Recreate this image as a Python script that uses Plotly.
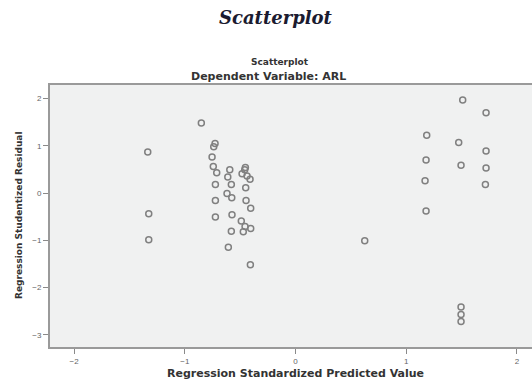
import plotly.graph_objects as go

# Regression Standardized Predicted Value
pred = [-1.335, -1.326, -1.326, -0.851, -0.727, -0.739, -0.754, -0.743, -0.712, -0.724,
        -0.724, -0.724, -0.594, -0.612, -0.580, -0.619, -0.576, -0.574, -0.580, -0.607,
        -0.453, -0.459, -0.483, -0.438, -0.411, -0.450, -0.447, -0.405, -0.490, -0.456,
        -0.472, -0.405, -0.408,
        0.625, 1.510, 1.721, 1.185, 1.474, 1.721, 1.179, 1.495, 1.721, 1.170,
        1.715, 1.179, 1.495, 1.495, 1.495]
# Regression Studentized Residual
resid = [0.87, -0.44, -0.99, 1.48, 1.05, 0.98, 0.76, 0.56, 0.43, 0.18,
         -0.16, -0.51, 0.49, 0.34, 0.18, -0.01, -0.10, -0.46, -0.81, -1.15,
         0.54, 0.49, 0.41, 0.36, 0.29, 0.11, -0.16, -0.32, -0.59, -0.71,
         -0.82, -0.75, -1.52,
         -1.01, 1.97, 1.70, 1.22, 1.07, 0.89, 0.70, 0.59, 0.53, 0.26,
         0.18, -0.38, -2.41, -2.57, -2.72]

x_ticks = [-2, -1, 0, 1, 2]
y_ticks = [-3, -2, -1, 0, 1, 2]

W, H = 532, 383
L, R, T, B = 50, 0, 85, 36

fig = go.Figure()
fig.add_trace(go.Scatter(
    x=pred, y=resid, mode="markers",
    marker=dict(symbol="circle-open", size=6, color="#808080", line=dict(width=1.5, color="#808080")),
    showlegend=False, hoverinfo="x+y"))

axis_common = dict(
    showgrid=False, zeroline=False, showline=True, linecolor="#9a9a9a", linewidth=2,
    ticks="outside", ticklen=5, tickcolor="#8a8a8a", tickwidth=1,
    tickfont=dict(family="Liberation Sans, Arial", size=8, color="#666666"),
)

fig.update_layout(
    width=W, height=H,
    margin=dict(l=L, r=R, t=T, b=B),
    paper_bgcolor="white", plot_bgcolor="#f0f1f1",
    xaxis=dict(range=[-2.218, 2.136], tickvals=x_ticks, mirror=True, **axis_common),
    yaxis=dict(range=[-3.259, 2.286], tickvals=y_ticks, mirror=False, **axis_common),
    font=dict(family="DejaVu Sans"),
)

def px_x(p):
    return (p - L) / (W - L - R)

def px_y(p):
    return (H - B - p) / (H - T - B)

anns = [
    dict(text="<b><i>Scatterplot</i></b>", x=276, y=17,
         font=dict(family="DejaVu Serif", size=18, color="#1b1b30")),
    dict(text="<b>Scatterplot</b>", x=280, y=62,
         font=dict(size=9, color="#333333")),
    dict(text="<b>Dependent Variable: ARL</b>", x=268, y=77,
         font=dict(size=11, color="#333333")),
    dict(text="<b>Regression Standardized Predicted Value</b>", x=295, y=373,
         font=dict(size=11, color="#333333")),
    dict(text="<b>Regression Studentized Residual</b>", x=19, y=216, textangle=-90,
         font=dict(size=9, color="#333333")),
]
for a in anns:
    fig.add_annotation(text=a["text"], xref="paper", yref="paper",
                       x=px_x(a["x"]), y=px_y(a["y"]), xanchor="center", yanchor="middle",
                       showarrow=False, font=a["font"], textangle=a.get("textangle", 0))

fig.write_html("out.html", config={"displayModeBar": False},
               post_script="document.body.style.margin='0px';")
